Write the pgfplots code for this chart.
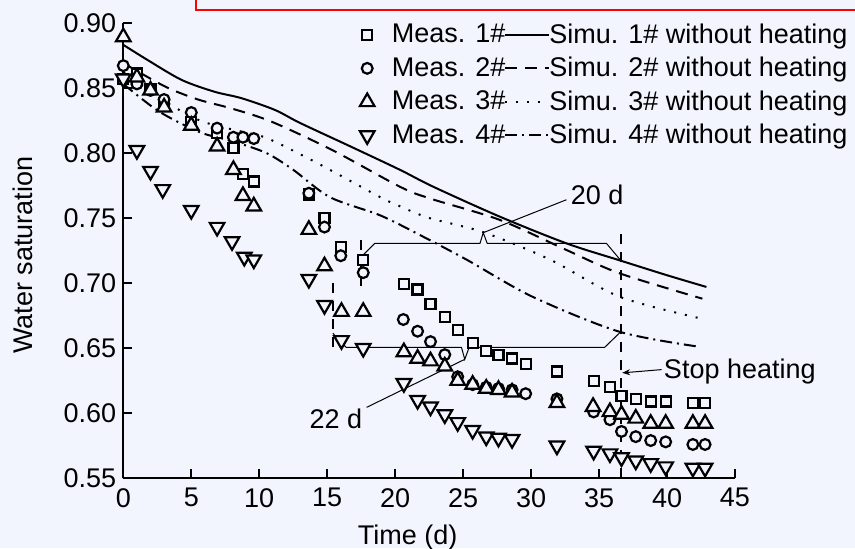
\documentclass[border=0pt]{standalone}
\usepackage{pgfplots}
\pgfplotsset{compat=1.18}
\usepackage{fontspec}
\setmainfont{Liberation Sans}
\usetikzlibrary{arrows.meta}
\definecolor{bg}{RGB}{243,245,254}
\newcommand{\fs}{\fontsize{13.5}{16}\selectfont}
\begin{document}
\begin{tikzpicture}
\fill[bg] (-61.65pt,-34.85pt) rectangle (365.85pt,239.15pt);
\useasboundingbox (-61.65pt,-34.85pt) rectangle (365.85pt,239.15pt);
\draw[red, line width=1pt] (36.2pt,245pt) -- (36.2pt,234.15pt) -- (370pt,234.15pt);
\begin{axis}[
  at={(0pt,0pt)}, anchor=south west, scale only axis,
  width=305.85pt, height=227.8pt,
  xmin=0, xmax=45, ymin=0.55, ymax=0.90,
  clip=false,
  axis x line*=bottom, axis y line*=left,
  axis line style={-, line width=1pt},
  tick align=inside, major tick length=4.5pt,
  every tick/.style={line width=1pt, black},
  xtick={0,5,10,15,20,25,30,35,40,45},
  ytick={0.55,0.60,0.65,0.70,0.75,0.80,0.85,0.90},
  /pgf/number format/assume math mode=true,
  yticklabel style={/pgf/number format/fixed,/pgf/number format/fixed zerofill,/pgf/number format/precision=2},
  xticklabel style={yshift=-1.5pt},
  ticklabel style={font=\fs},
  xlabel={Time (d)}, ylabel={Water saturation},
  label style={font=\fs},
  xlabel style={at={(axis description cs:0.465,-0.130)}, anchor=center},
  ylabel style={at={(axis description cs:-0.165,0.49)}, anchor=center},
  legend columns=2,
  legend cell align=left,
  legend style={draw=none, fill=none, at={(axis description cs:1.202,1.020)}, anchor=north east, font=\fs, nodes={inner xsep=2.3pt, inner ysep=2.75pt, text depth=0.15em}},
  mk/.style={only marks,
    legend image code/.code={\path[draw=none,fill=none] (0pt,0pt) -- (20pt,0pt); \path[##1] plot[only marks, mark repeat=2, mark phase=2] coordinates {(0pt,0pt) (10pt,0pt) (20pt,0pt)};}},
  ln/.style={black, line width=1pt, smooth, no marks,
    legend image code/.code={\draw[##1,overlay] (-2.3pt,0pt) -- (19.7pt,0pt); \path[draw=none,fill=none] (0pt,0pt) -- (17.4pt,0pt);}},
]
% Meas 1
\addplot[mk, mark=square*, mark size=2.5pt, mark options={line width=1.1pt, fill=bg, draw=black, solid}] table {
0 0.857
1.0 0.861
2.0 0.849
3.0 0.838
5.0 0.824
6.9 0.815
8.1 0.804
8.8 0.784
9.6 0.778
13.65 0.768
14.8 0.750
16.0 0.728
17.65 0.718
20.64 0.699
21.65 0.695
22.6 0.684
23.65 0.674
24.6 0.664
25.7 0.654
26.7 0.648
27.6 0.645
28.6 0.642
29.6 0.638
31.9 0.632
34.6 0.625
35.8 0.620
36.65 0.613
37.7 0.611
38.8 0.609
39.9 0.609
41.9 0.608
42.8 0.608
};
\addlegendentry{Meas. 1\#}
\addplot[ln] table {
0 0.883
1.84 0.871
4.3 0.856
6.7 0.847
8.7 0.842
11.15 0.833
13 0.823
16.7 0.805
20.35 0.787
22.8 0.774
27.7 0.751
32.6 0.7305
36.5 0.7175
40 0.706
42.9 0.697
};
\addlegendentry{Simu. 1\# without heating}
% Meas 2
\addplot[mk, mark=*, mark size=2.7pt, mark options={line width=1.1pt, fill=bg, draw=black, solid}] table {
0 0.867
1.0 0.853
2.0 0.848
3.0 0.841
5.0 0.831
6.9 0.819
8.1 0.812
8.8 0.812
9.6 0.811
13.65 0.769
14.8 0.743
16.0 0.721
17.65 0.708
20.6 0.672
21.65 0.663
22.6 0.655
23.65 0.645
24.6 0.628
25.7 0.622
26.7 0.620
27.6 0.619
28.6 0.618
29.6 0.615
31.9 0.611
34.6 0.601
35.8 0.595
36.65 0.586
37.7 0.582
38.8 0.579
39.9 0.578
41.9 0.576
42.8 0.576
};
\addlegendentry{Meas. 2\#}
\addplot[ln, dash pattern=on 6pt off 4pt] table {
0 0.869
3.07 0.851
5.5 0.841
8.0 0.834
10.9 0.824
15.4 0.802
20.35 0.774
22.55 0.765
27.7 0.7485
32.6 0.7254
36.5 0.7075
42.6 0.688
};
\addlegendentry{Simu. 2\# without heating}
% Meas 3
\addplot[mk, mark=triangle*, mark size=4.2pt, mark options={line width=1.1pt, fill=bg, draw=black, solid}] table {
0 0.889
1.0 0.858
2.0 0.848
3.0 0.835
5.0 0.821
6.9 0.805
8.1 0.787
8.8 0.767
9.6 0.759
13.65 0.741
14.8 0.713
16.05 0.678
17.65 0.678
20.64 0.647
21.65 0.642
22.6 0.640
23.65 0.636
24.6 0.625
25.7 0.622
26.7 0.619
27.6 0.618
28.6 0.616
31.9 0.608
34.56 0.605
35.8 0.601
36.65 0.599
37.7 0.596
38.8 0.592
39.9 0.592
41.9 0.592
42.8 0.592
};
\addlegendentry{Meas. 3\#}
\addplot[ln, dash pattern=on 1pt off 4.5pt] table {
0 0.862
3 0.840
5.6 0.825
8 0.818
10.4 0.812
13 0.799
15.2 0.787
18.9 0.766
20.35 0.759
22.5 0.750
26.5 0.739
31.4 0.718
36.5 0.6895
42.4 0.673
};
\addlegendentry{Simu. 3\# without heating}
% Meas 4
\addplot[mk, mark=triangle*, mark size=4.2pt, mark options={rotate=180, line width=1.1pt, fill=bg, draw=black, solid}] table {
0 0.857
1.0 0.802
2.0 0.786
2.9 0.772
5.0 0.756
6.9 0.743
8.0 0.732
8.9 0.720
9.6 0.718
13.65 0.703
14.8 0.683
16.05 0.656
17.65 0.650
20.64 0.623
21.65 0.610
22.6 0.605
23.65 0.599
24.6 0.593
25.7 0.587
26.7 0.582
27.6 0.581
28.6 0.580
31.9 0.575
34.6 0.571
35.8 0.569
36.65 0.566
37.7 0.5635
38.8 0.5615
39.9 0.559
41.9 0.558
42.8 0.558
};
\addlegendentry{Meas. 4\#}
\addplot[ln, dash pattern=on 6pt off 2.5pt on 1pt off 2.5pt] table {
0 0.853
2.6 0.832
5.6 0.816
8 0.809
10.5 0.800
12.5 0.787
15.2 0.766
18.9 0.752
21.8 0.737
25.25 0.718
30.1 0.6895
36.5 0.6626
42.4 0.651
};
\addlegendentry{Simu. 4\# without heating}
% annotations
\draw[line width=1pt, dash pattern=on 5pt off 4pt] (axis cs:36.6,0.55) -- (axis cs:36.6,0.739);
\draw[line width=1pt, dash pattern=on 5pt off 4pt] (axis cs:15.4,0.651) -- (axis cs:15.4,0.705);
\draw[line width=1pt, dash pattern=on 5pt off 4pt] (axis cs:17.5,0.698) -- (axis cs:17.5,0.7356);
\draw[line width=0.5pt] (axis cs:17.65,0.7216) -- (axis cs:18.5,0.7305) -- (axis cs:26.24,0.7305) -- (axis cs:26.48,0.7387) -- (axis cs:26.77,0.7305) -- (axis cs:35.54,0.7305) -- (axis cs:36.57,0.7177);
\draw[line width=0.5pt] (axis cs:26.48,0.7387) -- (axis cs:32.6,0.764);
\node[anchor=west, inner sep=1pt, font=\fs] at (axis cs:32.75,0.768) {20 d};
\draw[line width=0.5pt] (axis cs:15.42,0.6614) -- (axis cs:16.4,0.6505) -- (axis cs:24.88,0.6505) -- (axis cs:25.12,0.6414) -- (axis cs:25.44,0.6505) -- (axis cs:35.4,0.6505) -- (axis cs:36.6,0.6626);
\draw[line width=0.5pt] (axis cs:25.12,0.6414) -- (axis cs:17.9,0.6045);
\node[anchor=east, inner sep=1pt, font=\fs] at (axis cs:17.75,0.596) {22 d};
\draw[line width=0.5pt, -{Stealth[length=4pt,width=3pt]}] (axis cs:39.6,0.6335) -- (axis cs:36.7,0.631);
\node[anchor=west, inner sep=1pt, font=\fs] at (axis cs:39.6,0.632) {Stop heating};
\end{axis}
\end{tikzpicture}
\end{document}
